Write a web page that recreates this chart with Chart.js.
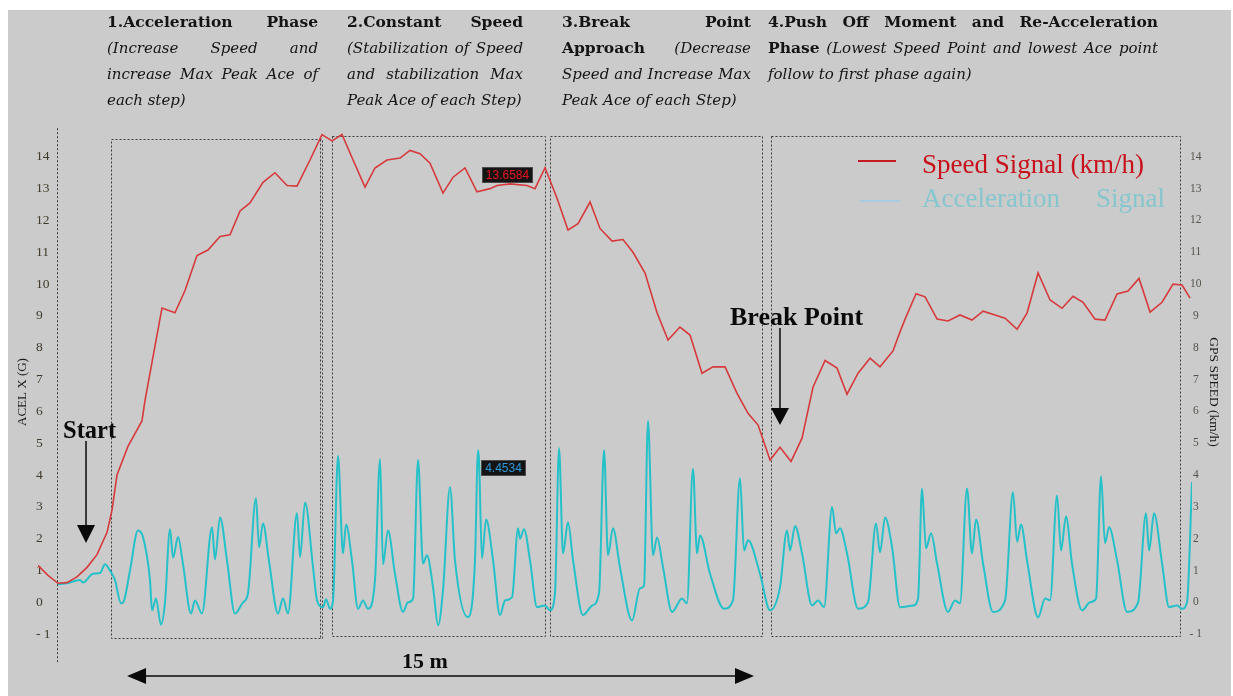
<!DOCTYPE html>
<html>
<head>
<meta charset="utf-8">
<script src="https://cdn.jsdelivr.net/npm/chart.js@4.4.1/dist/chart.umd.min.js"></script>
<style>
  html, body { margin: 0; padding: 0; background: #ffffff; }
  #wrap { width: 1233px; height: 696px; }
</style>
</head>
<body>
<div id="wrap"><canvas id="c" width="1233" height="696"></canvas></div>
<script>
// ---- GPS speed (km/h) sampled over time (s) ----
const speedTime = [0, 0.088, 0.177, 0.257, 0.345, 0.434, 0.522, 0.611, 0.655, 0.699,
  0.796, 0.920, 0.947, 1.097, 1.212, 1.301, 1.407, 1.504, 1.611, 1.699,
  1.788, 1.876, 1.991, 2.097, 2.204, 2.292, 2.407, 2.513, 2.602, 2.690,
  2.788, 2.894, 2.982, 3.088, 3.204, 3.292, 3.381, 3.469, 3.584, 3.673,
  3.779, 3.885, 4.000, 4.062, 4.177, 4.327, 4.398, 4.487, 4.593, 4.690,
  4.779, 4.885, 4.973, 5.080, 5.177, 5.265, 5.372, 5.478, 5.575, 5.681,
  5.770, 5.876, 5.973, 6.080, 6.186, 6.283, 6.372, 6.478, 6.566, 6.664,
  6.761, 6.858, 6.965, 7.071, 7.159, 7.257, 7.363, 7.451, 7.566, 7.628,
  7.673, 7.770, 7.850, 7.956, 8.053, 8.159, 8.265, 8.363, 8.558, 8.664,
  8.752, 8.850, 8.956, 9.062, 9.159, 9.248, 9.354, 9.442, 9.549, 9.646,
  9.743, 9.841, 9.947, 10.044, 10.124, 10.195];
const speedKmh = [1.16, 0.85, 0.6, 0.62, 0.8, 1.1, 1.5, 2.2, 2.9, 4.0,
  4.9, 5.7, 6.35, 9.25, 9.1, 9.8, 10.9, 11.07, 11.5, 11.55,
  12.3, 12.55, 13.2, 13.5, 13.1, 13.08, 13.9, 14.7, 14.5, 14.7,
  13.9, 13.05, 13.65, 13.9, 13.96, 14.2, 14.1, 13.8, 12.86, 13.36,
  13.65, 12.9, 13.0, 13.1, 13.15, 13.1, 13.0, 13.6584, 12.7, 11.7,
  11.9, 12.58, 11.75, 11.35, 11.4, 11.0, 10.35, 9.1, 8.24, 8.65,
  8.4, 7.2, 7.4, 7.4, 6.57, 5.94, 5.57, 4.47, 4.87, 4.43,
  5.16, 6.76, 7.6, 7.36, 6.54, 7.2, 7.67, 7.4, 7.9, 8.5,
  8.9, 9.7, 9.6, 8.9, 8.84, 9.03, 8.87, 9.15, 8.93, 8.58,
  9.09, 10.35, 9.5, 9.24, 9.62, 9.43, 8.9, 8.87, 9.69, 9.78,
  10.18, 9.12, 9.43, 10.0, 9.97, 9.56];

// ---- Forward acceleration (G) over time (s) ----
const accelTime = [0.177, 0.257, 0.372, 0.398, 0.487, 0.549, 0.593, 0.637, 0.681, 0.735,
  0.761, 0.814, 0.885, 0.929, 0.991, 1.009, 1.044, 1.088, 1.124, 1.168,
  1.195, 1.239, 1.283, 1.354, 1.389, 1.451, 1.540, 1.566, 1.611, 1.673,
  1.743, 1.814, 1.858, 1.929, 1.956, 1.991, 2.044, 2.124, 2.168, 2.212,
  2.292, 2.319, 2.363, 2.434, 2.469, 2.522, 2.549, 2.584, 2.611, 2.655,
  2.699, 2.726, 2.779, 2.832, 2.876, 2.920, 2.982, 3.027, 3.053, 3.097,
  3.159, 3.230, 3.274, 3.319, 3.363, 3.407, 3.442, 3.496, 3.540, 3.584,
  3.646, 3.690, 3.805, 3.867, 3.894, 3.903, 3.929, 3.965, 4.027, 4.088,
  4.133, 4.195, 4.248, 4.265, 4.301, 4.354, 4.416, 4.487, 4.531, 4.575,
  4.611, 4.646, 4.690, 4.735, 4.823, 4.903, 4.965, 5.009, 5.044, 5.088,
  5.150, 5.257, 5.327, 5.363, 5.398, 5.442, 5.478, 5.531, 5.611, 5.699,
  5.743, 5.796, 5.832, 5.858, 5.947, 6.071, 6.150, 6.212, 6.248, 6.283,
  6.389, 6.478, 6.566, 6.628, 6.655, 6.699, 6.761, 6.850, 6.903, 6.956,
  7.027, 7.062, 7.097, 7.159, 7.257, 7.345, 7.416, 7.451, 7.496, 7.558,
  7.628, 7.743, 7.788, 7.823, 7.858, 7.903, 7.956, 8.053, 8.115, 8.159,
  8.221, 8.265, 8.301, 8.363, 8.451, 8.558, 8.628, 8.664, 8.699, 8.752,
  8.850, 8.912, 8.956, 9.018, 9.053, 9.097, 9.150, 9.239, 9.310, 9.363,
  9.407, 9.442, 9.478, 9.549, 9.637, 9.735, 9.805, 9.832, 9.876, 9.947,
  10.009, 10.080, 10.124, 10.168, 10.212];
const accelG = [0.57, 0.6, 0.7, 0.62, 0.9, 0.92, 1.2, 1.0, 0.7, -0.03,
  0.05, 1.0, 2.26, 2.05, 0.7, -0.25, 0.12, -0.7, 0, 2.3,
  1.4, 2.05, 1.2, -0.35, 0.06, -0.35, 2.36, 1.35, 2.67, 1.3,
  -0.35, 0, 0.28, 3.27, 1.73, 2.48, 1.3, -0.35, 0.12, -0.35,
  2.8, 1.42, 3.14, 1.1, 0.06, -0.15, 0.1, -0.2, 0.06, 4.6,
  1.54, 2.45, 1.3, -0.2, 0.06, -0.2, 0.7, 4.5, 1.2, 2.26,
  0.9, -0.3, 0, 0.12, 4.47, 1.22, 1.48, 0.47, -0.72, 0.38,
  3.62, 1.32, -0.47, 1.32, 4.78, 4.4534, 1.38, 2.6, 1.32, -0.4,
  0.06, 0.16, 2.33, 2.0, 2.3, 1.32, -0.15, -0.1, -0.25, 0.28,
  4.84, 1.54, 2.52, 1.32, -0.4, -0.1, 0.31, 4.78, 1.48, 2.33,
  1.1, -0.57, 0.44, 0.53, 5.7, 1.48, 2.04, 1.1, -0.3, 0.12,
  -0.03, 4.2, 1.54, 2.1, 0.9, -0.2, 0.06, 3.9, 1.63, 1.95,
  0.9, -0.25, 0.47, 2.26, 1.63, 2.4, 1.54, -0.1, 0.06, -0.15,
  3.0, 2.17, 2.33, 1.54, -0.2, 0, 2.48, 1.57, 2.67, 1.73,
  -0.15, -0.1, 0.12, 3.58, 1.7, 2.17, 1.22, -0.3, 0.06, -0.03,
  3.58, 1.54, 2.6, 1.22, -0.3, 0.06, 3.46, 1.9, 2.45, 1.32,
  -0.47, 0.12, 0.06, 3.36, 1.63, 2.7, 1.22, -0.25, 0, 0.12,
  3.96, 1.86, 2.36, 1.32, -0.3, 0, 2.8, 1.63, 2.8, 1.22,
  -0.15, -0.1, -0.2, 0, 3.78];

// Shared value axis ticks (both sides)
const axisTicks = [-1, 0, 1, 2, 3, 4, 5, 6, 7, 8, 9, 10, 11, 12, 13, 14];

// Readouts shown next to the cursor points
const speedReadoutIndex = 47;
const accelReadoutIndex = 75;

// Phase windows (time span, value span of the dotted frame)
const phaseStart = [0.646, 2.602, 4.531, 6.487];
const phaseEnd   = [2.513, 4.487, 6.407, 10.106];
const phaseTop   = [14.56, 14.65, 14.65, 14.65];
const phaseBottom = [-1.13, -1.07, -1.07, -1.07];

const SERIF = '"DejaVu Serif", serif';
const B = 'bold 15.5px ' + SERIF;
const I = 'italic 15px ' + SERIF;
const headerColumns = [
  { x0: 107, x1: 318, lines: [
    { runs: [[B, '1.Acceleration Phase']], justify: true },
    { runs: [[I, '(Increase Speed and']], justify: true },
    { runs: [[I, 'increase Max Peak Ace of']], justify: true },
    { runs: [[I, 'each step)']], justify: false } ] },
  { x0: 347, x1: 523, lines: [
    { runs: [[B, '2.Constant Speed']], justify: true },
    { runs: [[I, '(Stabilization of Speed']], justify: true },
    { runs: [[I, 'and stabilization Max']], justify: true },
    { runs: [[I, 'Peak Ace of each Step)']], justify: false } ] },
  { x0: 562, x1: 751, lines: [
    { runs: [[B, '3.Break Point']], justify: true },
    { runs: [[B, 'Approach'], [I, '(Decrease']], justify: true },
    { runs: [[I, 'Speed and Increase Max']], justify: true },
    { runs: [[I, 'Peak Ace of each Step)']], justify: false } ] },
  { x0: 768, x1: 1158, lines: [
    { runs: [[B, '4.Push Off Moment and Re-Acceleration']], justify: true },
    { runs: [[B, 'Phase'], [I, '(Lowest Speed Point and lowest Ace point']], justify: true },
    { runs: [[I, 'follow to first phase again)']], justify: false } ] }
];
const headerBaselines = [27, 53, 79, 105];

function drawTextLine(ctx, runs, x0, x1, y, justify) {
  const words = [];
  runs.forEach(([font, text]) => {
    text.split(' ').filter(Boolean).forEach(w => words.push({ font, w }));
  });
  let total = 0;
  words.forEach(o => { ctx.font = o.font; o.width = ctx.measureText(o.w).width; total += o.width; });
  ctx.font = words[words.length - 1].font;
  const space = ctx.measureText(' ').width;
  const n = words.length;
  let gap = space, sx = 1;
  if (justify && n > 1) {
    gap = (x1 - x0 - total) / (n - 1);
    if (gap < space * 0.7) {
      sx = (x1 - x0) / (total + space * 0.7 * (n - 1));
      gap = space * 0.7 * sx;
    }
  }
  let x = x0;
  words.forEach(o => {
    ctx.save();
    ctx.font = o.font;
    ctx.translate(x, y);
    ctx.scale(sx, 1);
    ctx.fillText(o.w, 0, 0);
    ctx.restore();
    x += o.width * sx + gap;
  });
}

function strokeSeg(ctx, xa, ya, xb, yb) {
  ctx.beginPath();
  ctx.moveTo(xa, ya);
  ctx.lineTo(xb, yb);
  ctx.stroke();
}

function arrowHead(ctx, tipX, tipY, dirX, dirY, len, half) {
  const bx = tipX - dirX * len, by = tipY - dirY * len;
  ctx.beginPath();
  ctx.moveTo(tipX, tipY);
  ctx.lineTo(bx - dirY * half, by + dirX * half);
  ctx.lineTo(bx + dirY * half, by - dirX * half);
  ctx.closePath();
  ctx.fill();
}

const decor = {
  id: 'decor',
  beforeDraw(chart) {
    const ctx = chart.ctx;
    ctx.save();
    ctx.fillStyle = '#ffffff';
    ctx.fillRect(0, 0, chart.width, chart.height);
    ctx.fillStyle = '#cbcbcb';
    ctx.fillRect(8, 10, chart.width - 10, chart.height - 10);
    ctx.restore();
  },
  beforeDatasetsDraw(chart) {
    const ctx = chart.ctx, xs = chart.scales.x, ys = chart.scales.y;
    ctx.save();
    ctx.strokeStyle = '#3a3a3a';
    ctx.lineWidth = 1;
    ctx.setLineDash([2, 2]);
    // phase frames
    for (let i = 0; i < phaseStart.length; i++) {
      const l = Math.round(xs.getPixelForValue(phaseStart[i])) + 0.5;
      const r = Math.round(xs.getPixelForValue(phaseEnd[i])) + 0.5;
      const t = Math.round(ys.getPixelForValue(phaseTop[i])) + 0.5;
      const b = Math.round(ys.getPixelForValue(phaseBottom[i])) + 0.5;
      ctx.strokeRect(l, t, r - l, b - t);
      if (i === 0) { strokeSeg(ctx, r - 2, t, r - 2, b); }
    }
    // start marker line
    const sx = Math.round(xs.getPixelForValue(0.168)) + 0.5;
    strokeSeg(ctx, sx, ys.getPixelForValue(14.9), sx, ys.getPixelForValue(-1.9));
    ctx.restore();
  },
  afterDraw(chart) {
    const ctx = chart.ctx, xs = chart.scales.x;
    ctx.save();
    ctx.textBaseline = 'alphabetic';
    ctx.textAlign = 'left';
    ctx.fillStyle = '#141414';
    // phase descriptions
    headerColumns.forEach(col => {
      col.lines.forEach((ln, k) => drawTextLine(ctx, ln.runs, col.x0, col.x1, headerBaselines[k], ln.justify));
    });

    // axis titles
    ctx.fillStyle = '#1a1a1a';
    ctx.font = '13px "Liberation Serif", serif';
    ctx.textAlign = 'center';
    ctx.textBaseline = 'middle';
    ctx.save(); ctx.translate(23, 392); ctx.rotate(-Math.PI / 2); ctx.fillText('ACEL X (G)', 0, 0); ctx.restore();
    ctx.font = '13.5px "Liberation Serif", serif';
    ctx.save(); ctx.translate(1214, 392); ctx.rotate(Math.PI / 2); ctx.fillText('GPS SPEED (km/h)', 0, 0); ctx.restore();

    // legend
    const ds = chart.data.datasets;
    ctx.textBaseline = 'alphabetic';
    ctx.textAlign = 'left';
    ctx.lineWidth = 2;
    ctx.strokeStyle = '#c41a22';
    strokeSeg(ctx, 858, 161, 896, 161);
    ctx.strokeStyle = '#a9cbe0';
    strokeSeg(ctx, 860, 201, 900, 201);
    ctx.font = '27px "Liberation Serif", serif';
    ctx.fillStyle = '#c8101c';
    ctx.fillText(ds[0].label, 922, 173);
    ctx.fillStyle = '#86c6cf';
    drawTextLine(ctx, [['27px "Liberation Serif", serif', ds[1].label]], 922, 1165, 207, true);

    // cursor readouts
    const readout = (meta, idx, value, color, dx, rightSide) => {
      const el = meta.data[idx];
      ctx.font = '12px "Liberation Sans", sans-serif';
      const txt = value.toFixed(4);
      const w = Math.round(ctx.measureText(txt).width + 8);
      const h = 16;
      const bx = rightSide ? Math.round(el.x + dx) : Math.round(el.x - dx - w);
      const by = Math.round(el.y) - 1;
      ctx.fillStyle = '#141414';
      ctx.fillRect(bx, by, w, h);
      ctx.strokeStyle = '#4a4a4a';
      ctx.lineWidth = 1;
      ctx.strokeRect(bx + 0.5, by + 0.5, w - 1, h - 1);
      ctx.fillStyle = color;
      ctx.textAlign = 'center';
      ctx.textBaseline = 'middle';
      ctx.fillText(txt, bx + w / 2, by + h / 2 + 1);
    };
    readout(chart.getDatasetMeta(0), speedReadoutIndex, speedKmh[speedReadoutIndex], '#e8121e', 12, false);
    readout(chart.getDatasetMeta(1), accelReadoutIndex, accelG[accelReadoutIndex], '#2a98d8', 2, true);

    // annotations: Start, Break Point, 15 m
    ctx.fillStyle = '#0a0a0a';
    ctx.strokeStyle = '#0a0a0a';
    ctx.lineWidth = 1.5;
    ctx.textAlign = 'left';
    ctx.textBaseline = 'alphabetic';
    ctx.font = 'bold 24.5px "Liberation Serif", serif';
    ctx.fillText('Start', 63, 438);
    const ax = xs.getPixelForValue(0.425);
    strokeSeg(ctx, ax, 441, ax, 527);
    arrowHead(ctx, ax, 543, 0, 1, 18, 9);

    ctx.font = 'bold 26px "Liberation Serif", serif';
    ctx.fillText('Break Point', 730, 325);
    const bpx = xs.getPixelForValue(6.566);
    strokeSeg(ctx, bpx, 328, bpx, 410);
    arrowHead(ctx, bpx, 425, 0, 1, 17, 9);

    ctx.font = 'bold 22px "Liberation Serif", serif';
    ctx.textAlign = 'center';
    ctx.fillText('15 m', 425, 668);
    const la = xs.getPixelForValue(0.788), ra = xs.getPixelForValue(6.336);
    strokeSeg(ctx, la + 10, 676, ra - 10, 676);
    arrowHead(ctx, la, 676, -1, 0, 19, 8);
    arrowHead(ctx, ra, 676, 1, 0, 19, 8);
    ctx.restore();
  }
};

const onlyAxisTicks = s => { s.ticks = axisTicks.map(v => ({ value: v })); };
const tickText = v => (v < 0 ? '- ' + Math.abs(v) : String(v));

new Chart(document.getElementById('c'), {
  type: 'line',
  data: {
    datasets: [
      {
        label: 'Speed Signal (km/h)',
        data: speedTime.map((t, i) => ({ x: t, y: speedKmh[i] })),
        borderColor: '#d63a3c',
        borderWidth: 1.6,
        pointRadius: 0,
        tension: 0,
        yAxisID: 'y'
      },
      {
        label: 'Acceleration Signal',
        data: accelTime.map((t, i) => ({ x: t, y: accelG[i] })),
        borderColor: '#25c1c9',
        borderWidth: 2,
        pointRadius: 0,
        cubicInterpolationMode: 'monotone',
        yAxisID: 'y'
      }
    ]
  },
  options: {
    responsive: false,
    animation: false,
    devicePixelRatio: 1,
    layout: { padding: { left: 38, right: 41, top: 125, bottom: 30 } },
    plugins: { legend: { display: false }, tooltip: { enabled: false } },
    scales: {
      x: { type: 'linear', min: 0, max: 10.212, display: false },
      y: {
        position: 'left', min: -2, max: 15,
        grid: { display: false }, border: { display: false },
        afterBuildTicks: onlyAxisTicks,
        afterFit: s => { s.width = 0; },
        ticks: { mirror: true, padding: -2, font: { family: '"Liberation Serif", serif', size: 13.5 }, color: '#3f3b2a', callback: tickText }
      },
      y2: {
        position: 'right', min: -2, max: 15,
        grid: { display: false }, border: { display: false },
        afterBuildTicks: onlyAxisTicks,
        afterFit: s => { s.width = 0; },
        ticks: { mirror: true, padding: 10, crossAlign: 'center', font: { family: '"Liberation Serif", serif', size: 11.5 }, color: '#55534a', callback: tickText }
      }
    }
  },
  plugins: [decor]
});
</script>
</body>
</html>
